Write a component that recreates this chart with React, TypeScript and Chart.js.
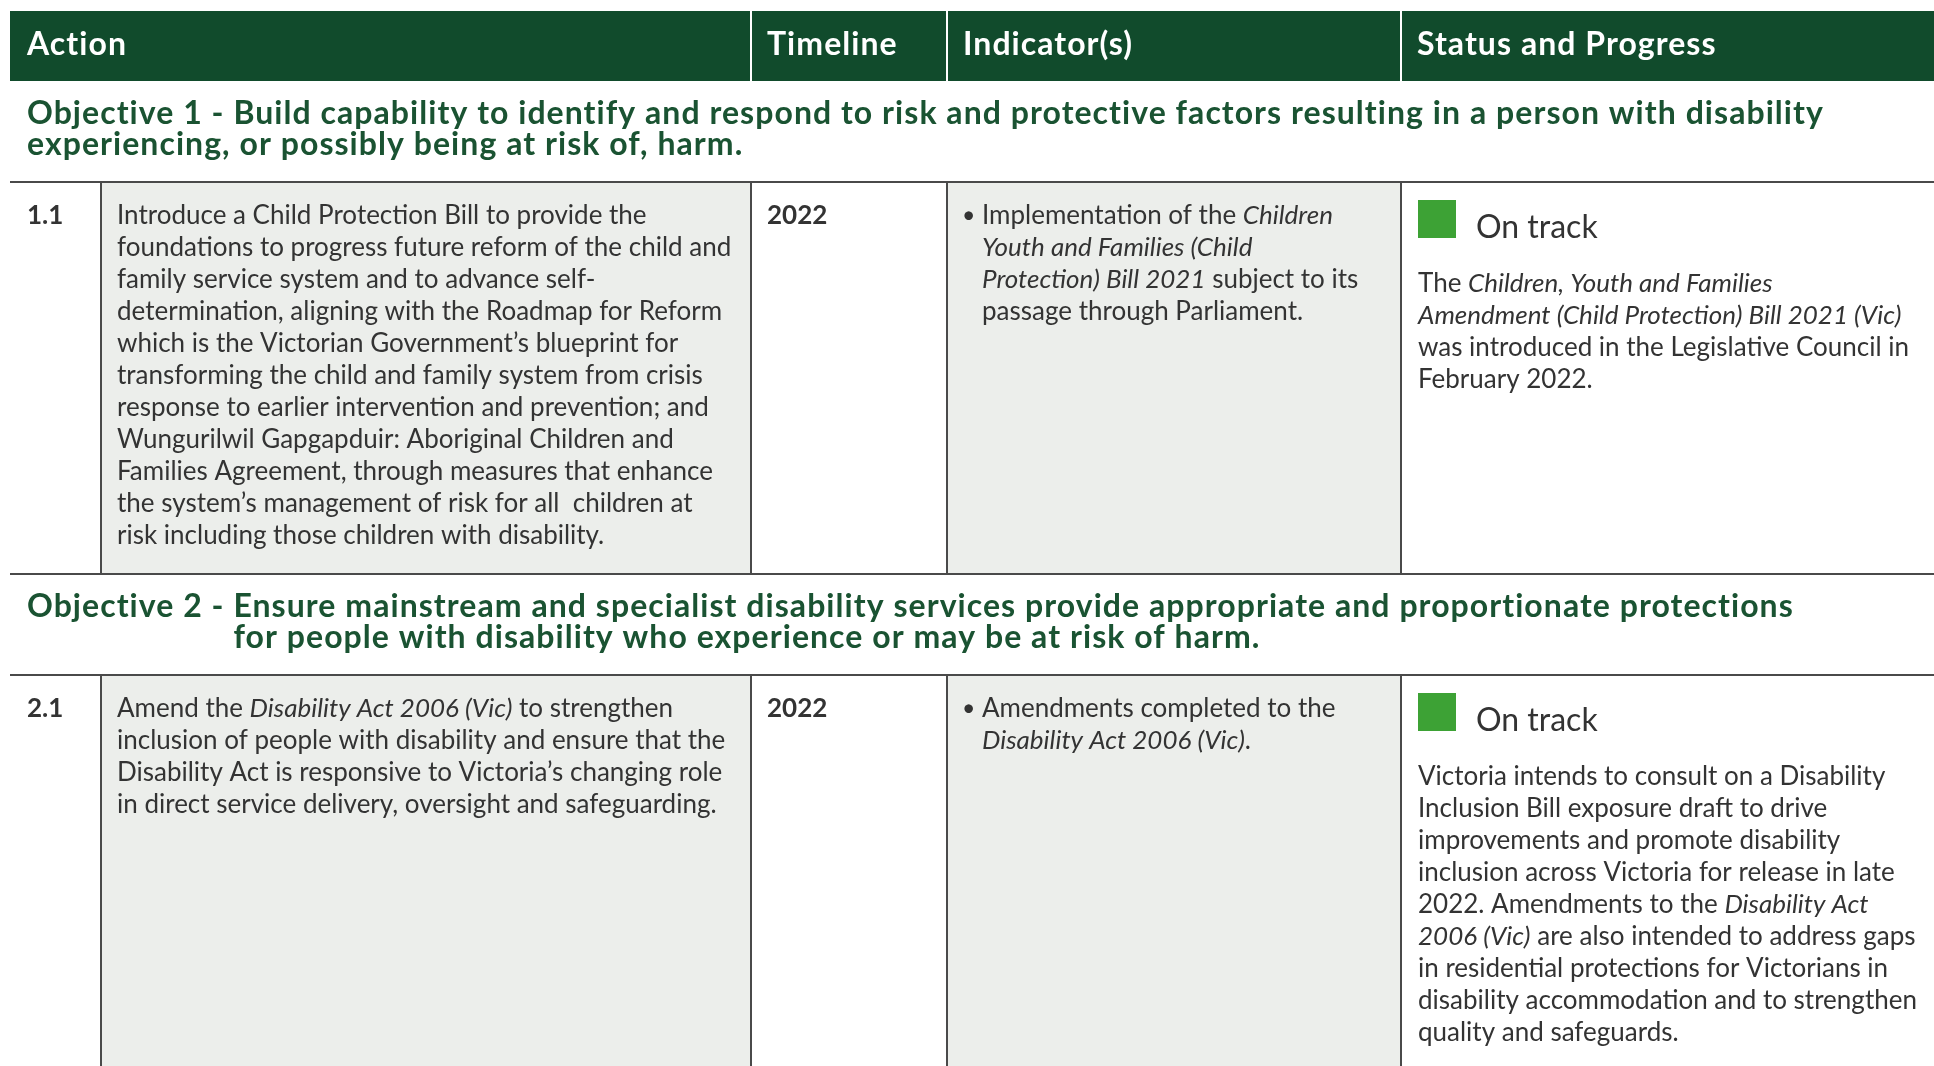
import React, { useEffect, useRef } from "react";
import { Chart, registerables } from "chart.js";

Chart.register(...registerables);

// ---------- DATA ----------
const headers = ["Action", "Timeline", "Indicator(s)", "Status and Progress"];

const objectiveTitles = [
  [
    "Objective 1 - Build capability to identify and respond to risk and protective factors resulting in a person with disability",
    "experiencing, or possibly being at risk of, harm.",
  ],
  [
    "Objective 2 - Ensure mainstream and specialist disability services provide appropriate and proportionate protections",
    "for people with disability who experience or may be at risk of harm.",
  ],
];
const objectivePrefixes = ["", "Objective 2 - "];

const actionNumbers = ["1.1", "2.1"];

const actionTexts = [
  [
    "Introduce a Child Protection Bill to provide the",
    "foundations to progress future reform of the child and",
    "family service system and to advance self-",
    "determination, aligning with the Roadmap for Reform",
    "which is the Victorian Government\u2019s blueprint for",
    "transforming the child and family system from crisis",
    "response to earlier intervention and prevention; and",
    "Wungurilwil Gapgapduir: Aboriginal Children and",
    "Families Agreement, through measures that enhance",
    "the system\u2019s management of risk for all  children at",
    "risk including those children with disability.",
  ],
  [
    "Amend the *Disability Act 2006 (Vic)* to strengthen",
    "inclusion of people with disability and ensure that the",
    "Disability Act is responsive to Victoria\u2019s changing role",
    "in direct service delivery, oversight and safeguarding.",
  ],
];

const timelines = ["2022", "2022"];

const indicatorTexts = [
  [
    "Implementation of the *Children*",
    "*Youth and Families (Child*",
    "*Protection) Bill 2021* subject to its",
    "passage through Parliament.",
  ],
  ["Amendments completed to the", "*Disability Act 2006 (Vic)*."],
];

const statusLabels = ["On track", "On track"];

const statusTexts = [
  [
    "The *Children, Youth and Families*",
    "*Amendment (Child Protection) Bill 2021 (Vic)*",
    "was introduced in the Legislative Council in",
    "February 2022.",
  ],
  [
    "Victoria intends to consult on a Disability",
    "Inclusion Bill exposure draft to drive",
    "improvements and promote disability",
    "inclusion across Victoria for release in late",
    "2022. Amendments to the *Disability Act*",
    "*2006 (Vic)* are also intended to address gaps",
    "in residential protections for Victorians in",
    "disability accommodation and to strengthen",
    "quality and safeguards.",
  ],
];

// ---------- STYLE / LAYOUT ----------
const W = 1934;
const H = 1066;
const FONT = "Lato, 'Noto Sans', sans-serif";
const HEAD_FONT = "Lato, 'Noto Sans', sans-serif";
const GREEN_DARK = "#114b2c";
const GREEN_TEXT = "#1a5332";
const STATUS_GREEN = "#3da235";
const CELL_GREY = "#eceeeb";
const TEXT = "#333333";
const RULE = "#4a4a4a";

const COLS = [10, 101, 751, 947, 1401, W + 10];
const HEADER_TOP = 11;
const HEADER_BOTTOM = 81;
const BODY_SIZE = 26;
const LINE = 32;
const OBJ_SIZE = 32;
const OBJ_SPACING = "1.05px";
const OBJ_LINE = 31;

function drawRich(
  ctx: CanvasRenderingContext2D,
  line: string,
  x: number,
  y: number,
  size: number,
  weight: string,
  color: string
) {
  const parts = line.split("*");
  let cx = x;
  ctx.fillStyle = color;
  parts.forEach((p, i) => {
    const italic = i % 2 === 1;
    ctx.font = `${italic ? "italic " : ""}${weight} ${size}px ${FONT}`;
    ctx.fillText(p, cx, y);
    cx += ctx.measureText(p).width;
  });
}

const tablePlugin = {
  id: "tablePlugin",
  afterDraw(chart: any) {
    const ctx: any = chart.ctx;
    const xs = chart.scales.x;
    const ys = chart.scales.y;
    const px = (v: number) => xs.getPixelForValue(v);
    const py = (v: number) => ys.getPixelForValue(v);
    const col = COLS.map(px);

    ctx.save();
    ctx.textBaseline = "alphabetic";
    ctx.textAlign = "left";

    // background
    ctx.fillStyle = "#ffffff";
    ctx.fillRect(0, 0, chart.width, chart.height);

    // header
    ctx.fillStyle = GREEN_DARK;
    ctx.fillRect(col[0], py(HEADER_TOP), col[5] - col[0], py(HEADER_BOTTOM) - py(HEADER_TOP));
    ctx.strokeStyle = "#ffffff";
    ctx.lineWidth = 2;
    [2, 3, 4].forEach((c) => {
      ctx.beginPath();
      ctx.moveTo(col[c], py(HEADER_TOP));
      ctx.lineTo(col[c], py(HEADER_BOTTOM));
      ctx.stroke();
    });
    const headerX = [col[0] + 17, col[2] + 16, col[3] + 16, col[4] + 16];
    ctx.fillStyle = "#ffffff";
    ctx.font = `bold ${OBJ_SIZE}px ${HEAD_FONT}`;
    ctx.letterSpacing = OBJ_SPACING;
    headers.forEach((h, i) => ctx.fillText(h, headerX[i], py(55)));
    ctx.letterSpacing = "0px";

    let top = HEADER_BOTTOM;
    objectiveTitles.forEach((lines, r) => {
      // objective block
      ctx.font = `bold ${OBJ_SIZE}px ${HEAD_FONT}`;
      ctx.letterSpacing = OBJ_SPACING;
      ctx.fillStyle = GREEN_TEXT;
      const indent = ctx.measureText(objectivePrefixes[r]).width;
      lines.forEach((l, k) => {
        ctx.fillText(l, col[0] + 17 + (k > 0 ? indent : 0), py(top + 43 + k * OBJ_LINE));
      });
      ctx.letterSpacing = "0px";
      const ruleY = top + 43 + (lines.length - 1) * OBJ_LINE + 27;

      // row
      const rowTop = ruleY;
      const nLines = Math.max(
        actionTexts[r].length,
        indicatorTexts[r].length,
        statusTexts[r].length + 3
      );
      const rowBottom = rowTop + 42 + (nLines - 1) * LINE + 30;

      ctx.fillStyle = CELL_GREY;
      ctx.fillRect(col[1], py(rowTop), col[2] - col[1], py(rowBottom) - py(rowTop));
      ctx.fillRect(col[3], py(rowTop), col[4] - col[3], py(rowBottom) - py(rowTop));

      ctx.strokeStyle = RULE;
      ctx.lineWidth = 2;
      [1, 2, 3, 4].forEach((c) => {
        ctx.beginPath();
        ctx.moveTo(col[c], py(rowTop));
        ctx.lineTo(col[c], py(rowBottom));
        ctx.stroke();
      });
      [rowTop, rowBottom].forEach((yy) => {
        ctx.beginPath();
        ctx.moveTo(col[0], py(yy));
        ctx.lineTo(col[5], py(yy));
        ctx.stroke();
      });

      const base = rowTop + 42;
      ctx.fillStyle = TEXT;
      ctx.font = `bold ${BODY_SIZE}px ${FONT}`;
      ctx.fillText(actionNumbers[r], col[0] + 17, py(base));
      ctx.fillText(timelines[r], col[2] + 16, py(base));

      actionTexts[r].forEach((l, k) =>
        drawRich(ctx, l, col[1] + 16, py(base + k * LINE), BODY_SIZE, "normal", TEXT)
      );

      indicatorTexts[r].forEach((l, k) => {
        if (k === 0) {
          ctx.font = `normal ${BODY_SIZE - 3}px ${FONT}`;
          ctx.fillStyle = TEXT;
          ctx.fillText("\u2022", col[3] + 15, py(base - 1));
        }
        drawRich(ctx, l, col[3] + 35, py(base + k * LINE), BODY_SIZE, "normal", TEXT);
      });

      // status
      ctx.fillStyle = STATUS_GREEN;
      ctx.fillRect(col[4] + 17, py(rowTop + 18), 38, 38);
      ctx.fillStyle = TEXT;
      ctx.font = `normal 32px ${FONT}`;
      ctx.fillText(statusLabels[r], col[4] + 75, py(rowTop + 56));
      statusTexts[r].forEach((l, k) =>
        drawRich(ctx, l, col[4] + 17, py(rowTop + 110 + k * LINE), BODY_SIZE, "normal", TEXT)
      );

      top = rowBottom;
    });

    ctx.restore();
  },
};

export default function App() {
  const ref = useRef<HTMLCanvasElement | null>(null);

  useEffect(() => {
    if (!ref.current) return;
    const chart = new Chart(ref.current, {
      type: "scatter",
      data: { datasets: [] },
      options: {
        responsive: false,
        animation: false,
        devicePixelRatio: 1,
        layout: { padding: 0 },
        plugins: { legend: { display: false }, tooltip: { enabled: false } },
        scales: {
          x: { type: "linear", min: 0, max: W, display: false },
          y: { type: "linear", min: 0, max: H, reverse: true, display: false },
        },
      },
      plugins: [tablePlugin],
    });
    return () => chart.destroy();
  }, []);

  return (
    <div style={{ position: "fixed", left: 0, top: 0, width: W, height: H, overflow: "hidden", background: "#fff" }}>
      <canvas ref={ref} width={W} height={H} style={{ display: "block", width: W, height: H }} />
    </div>
  );
}
